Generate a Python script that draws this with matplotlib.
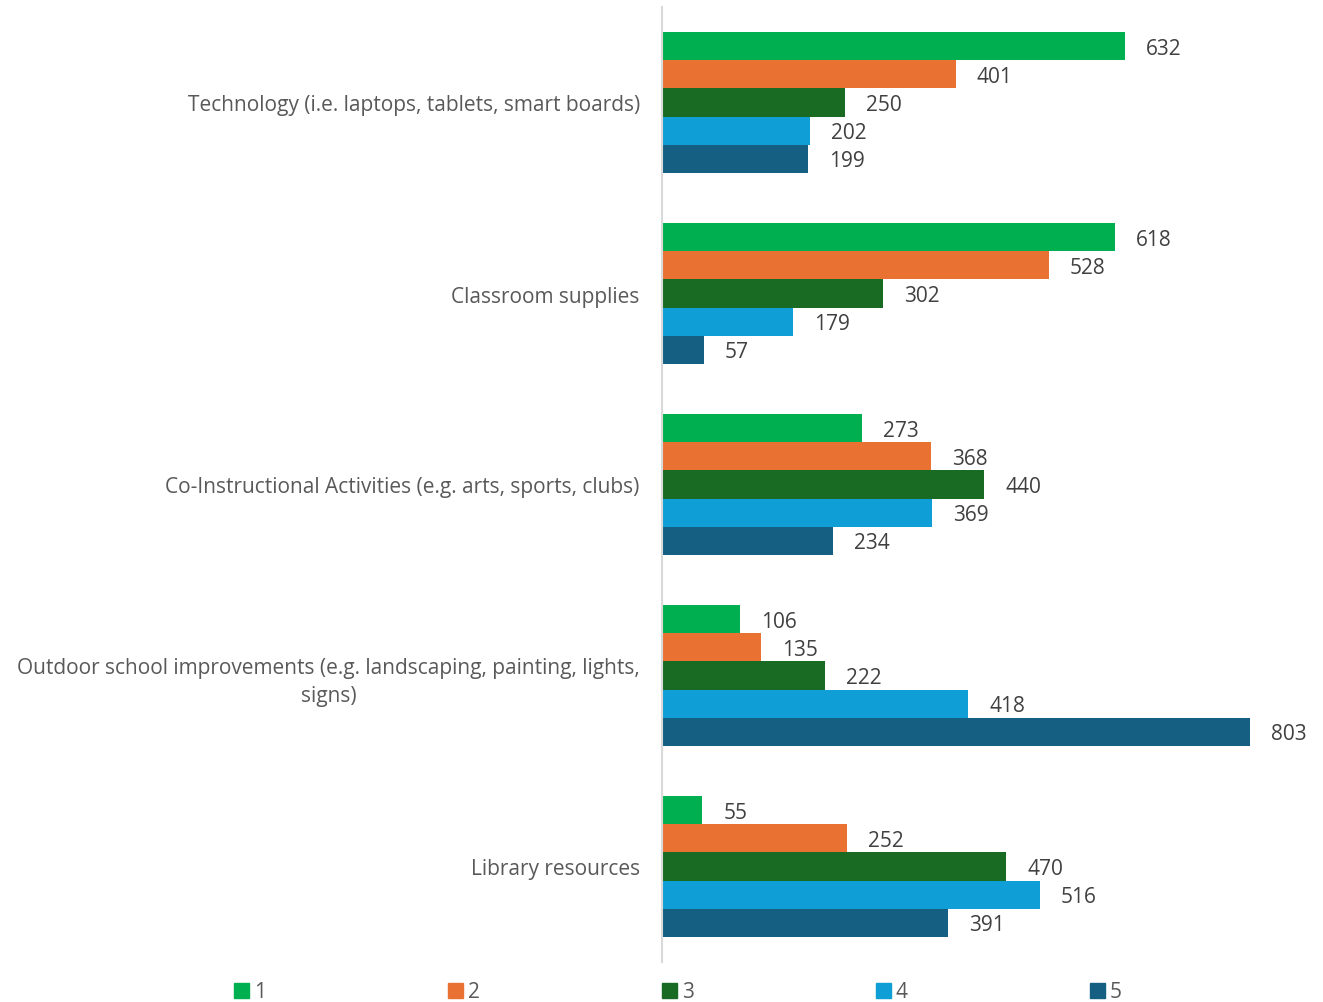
import matplotlib
matplotlib.use("Agg")
import matplotlib.pyplot as plt
import numpy as np

categories = [
    "Technology (i.e. laptops, tablets, smart boards)",
    "Classroom supplies",
    "Co-Instructional Activities (e.g. arts, sports, clubs)",
    "Outdoor school improvements (e.g. landscaping, painting, lights,\nsigns)",
    "Library resources",
]
series_names = ["1", "2", "3", "4", "5"]
s1 = [632, 618, 273, 106, 55]
s2 = [401, 528, 368, 135, 252]
s3 = [250, 302, 440, 222, 470]
s4 = [202, 179, 369, 418, 516]
s5 = [199, 57, 234, 803, 391]
series = [s1, s2, s3, s4, s5]
colors = ["#00B050", "#E97132", "#196B24", "#0F9ED5", "#156082"]

plt.rcParams['font.family'] = ['Open Sans', 'DejaVu Sans']

fig = plt.figure(figsize=(13.23, 10.03), dpi=100)
ax = fig.add_axes([662/1323, 1 - 963/1003, (1310 - 662)/1323, (963 - 8)/1003])

n = len(categories)
group_h = 0.733
bh = group_h / 5
y = np.arange(n)
for i, (vals, c, name) in enumerate(zip(series, colors, series_names)):
    pos = y - group_h/2 + bh*(i + 0.5)
    ax.barh(pos, vals, height=bh, color=c, label=name)
    for p, v in zip(pos, vals):
        ax.annotate(str(v), (v, p), xytext=(21, -2), textcoords='offset pixels',
                    va='center', ha='left', fontsize=15, color='#404040')

ax.set_ylim(n - 0.5, -0.5)
ax.set_xlim(0, 885)
ax.set_yticks(y)
ax.set_yticklabels(categories, fontsize=15, color='#595959', multialignment='center',
                   linespacing=1.45)
ax.tick_params(axis='y', length=0, pad=16)
ax.set_xticks([])
for s in ['top', 'right', 'bottom']:
    ax.spines[s].set_visible(False)
ax.spines['left'].set_color('#D9D9D9')
ax.spines['left'].set_linewidth(1.5)

handles = [plt.Rectangle((0, 0), 1, 1, color=c) for c in colors]
fig.legend(handles, series_names, loc='center', bbox_to_anchor=(678/1323, 1 - 993/1003),
           ncol=5, frameon=False, fontsize=15, handlelength=0.7, handleheight=0.7,
           handletextpad=0.25, columnspacing=8.75, labelcolor='#595959')

fig.savefig("out.png", dpi=100)
